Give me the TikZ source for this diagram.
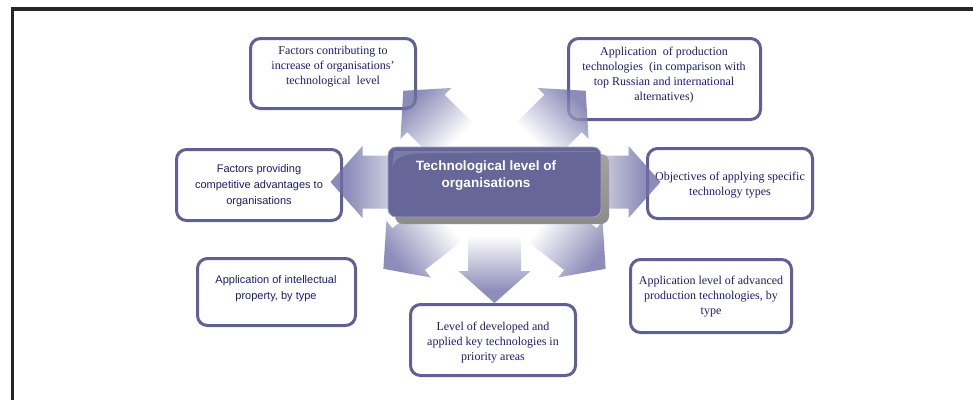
\documentclass[tikz,border=0pt]{standalone}
\usepackage{fontspec}
\setmainfont{Liberation Serif}
\setsansfont{Liberation Sans}

\definecolor{slate}{RGB}{102,102,153}
\definecolor{boxblue}{RGB}{96,96,150}
\definecolor{inkblue}{RGB}{28,28,112}
\definecolor{arrowblue}{RGB}{112,112,168}
\definecolor{framegray}{RGB}{38,38,38}
\definecolor{shadowgray}{RGB}{140,140,140}

\pgfdeclarehorizontalshading{arrowfade}{100bp}{color(0bp)=(white); color(47bp)=(white); color(70bp)=(arrowblue); color(100bp)=(arrowblue)}

\tikzset{
	infobox/.style={draw=boxblue, line width=3pt, rounded corners=10pt, fill=white, inner sep=0pt},
	serifnote/.style={text=inkblue, align=center, inner sep=0pt, font=\fontsize{12}{15}\selectfont},
	sansnote/.style={text=inkblue, align=center, inner sep=0pt, font=\sffamily\fontsize{11}{16}\selectfont}
}

% block arrow leaving the hub: #1 angle, #2 length
\newcommand\spoke[2]{%
	\shade [shading=arrowfade, fill opacity=0.8, transform canvas={shift={(hub)}, rotate=#1}]
		(0,-26.5) -- (#2-32,-26.5) -- (#2-32,-36) -- (#2,0) -- (#2-32,36) -- (#2-32,26.5) -- (0,26.5) -- cycle;}

\begin{document}
\begin{tikzpicture}[x=1pt,y=-1pt]
		\useasboundingbox (0,0) rectangle (973,400);
		\coordinate (hub) at (494.5,182);

		\draw [line width=3.5pt, framegray] (12.5,400)--(12.5,9)--(973,9);

		\node [infobox, minimum width=165pt, minimum height=70pt] (contrib) at (333,73.5) {};
		\node [infobox, minimum width=192pt, minimum height=81pt] (production) at (664.5,79) {};
		\node [infobox, minimum width=165pt, minimum height=71pt] (advantage) at (259,185) {};
		\node [infobox, minimum width=165pt, minimum height=70pt] (objective) at (730,183.5) {};
		\node [infobox, minimum width=158pt, minimum height=67pt] (property) at (276.5,292) {};
		\node [infobox, minimum width=165pt, minimum height=71pt] (keytech) at (493,340) {};
		\node [infobox, minimum width=161pt, minimum height=73pt] (advanced) at (711,296) {};

		\node [serifnote] (contrib-txt) at (333,67) {Factors contributing to\\increase of organisations’\\technological\ \ level};
		\node [serifnote] (production-txt) at (664,75) {Application\ \ of production\\technologies\ \ (in comparison with\\top Russian and international\\alternatives)};
		\node [sansnote] (advantage-txt) at (259,186) {Factors providing\\competitive advantages to\\organisations};
		\node [serifnote] (objective-txt) at (730,185) {Objectives of applying specific\\technology types};
		\node [sansnote] (property-txt) at (276,289) {Application of intellectual\\property, by type};
		\node [serifnote] (keytech-txt) at (493,343) {Level of developed and\\applied key technologies in\\priority areas};
		\node [serifnote] (advanced-txt) at (711,297) {Application level of advanced\\production technologies, by\\type};

		\spoke{135}{129}
		\spoke{45}{129}
		\spoke{180}{164}
		\spoke{0}{166}
		\spoke{218}{141}
		\spoke{-38}{141}
		\spoke{-90}{121}

		% raised centre block
		\shade [rounded corners=8pt, top color=shadowgray!80, bottom color=shadowgray] (395,154) rectangle (609,224);
		\node [fill=slate, draw=slate!60!white, line width=0.8pt, rounded corners=8pt, minimum width=213pt, minimum height=70pt] (core) at (hub) {};
		\fill [white, opacity=0.15] (392,171) .. controls (393,158) and (400,153) .. (430,153) -- (596,152) -- (596,151) -- (394,151) -- cycle;
		\node [text=white, align=center, inner sep=0pt, font=\sffamily\bfseries\fontsize{13.5}{17}\selectfont] (core-txt) at (486,176) {Technological level of\\organisations};

	\end{tikzpicture}
\end{document}
